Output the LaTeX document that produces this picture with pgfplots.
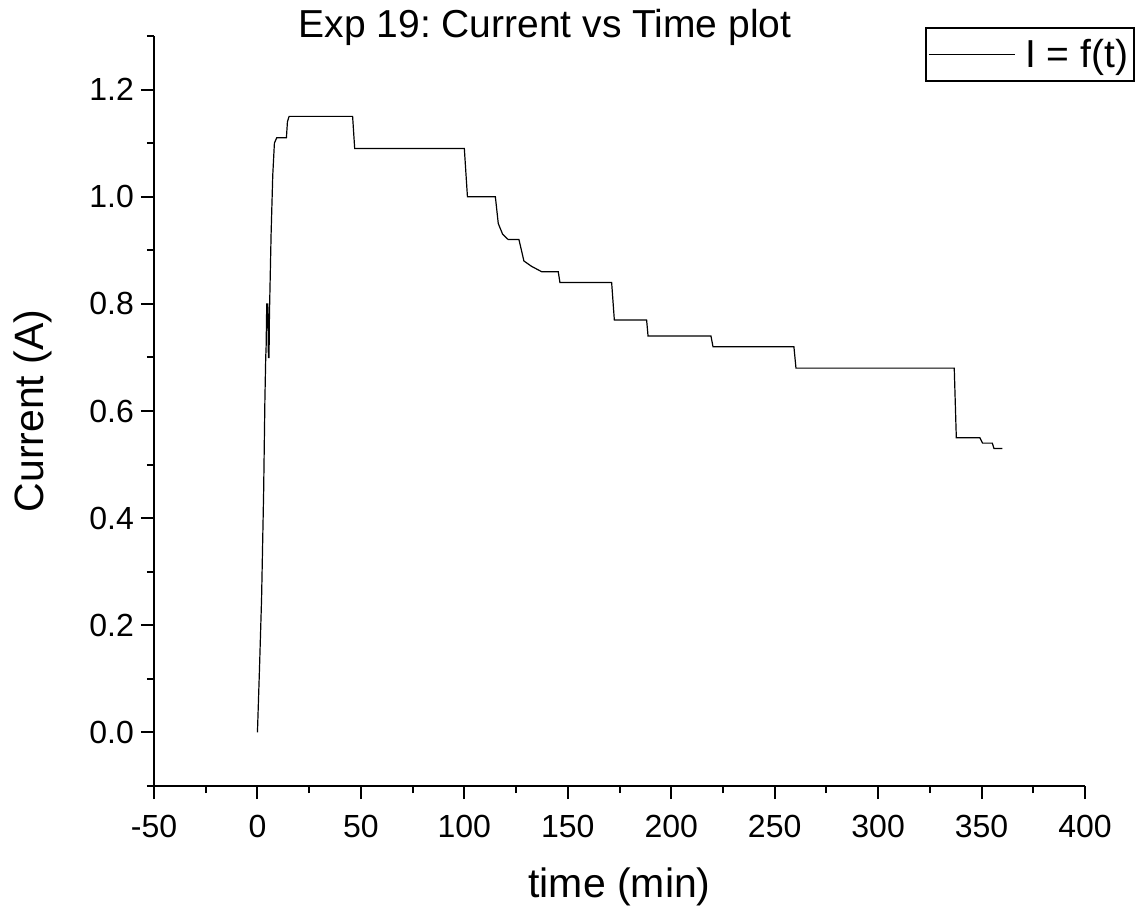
\documentclass[border=0pt]{standalone}
\usepackage{fontspec}
\setmainfont{Liberation Sans}
\usepackage{pgfplots}
\pgfplotsset{compat=1.18}
\frenchspacing
\begin{document}
\begin{tikzpicture}
\useasboundingbox (-77pt,-60pt) rectangle (492.5pt,393pt);
\begin{axis}[
  scale only axis,
  width=465.5pt, height=375pt,
  xmin=-50, xmax=400, ymin=-0.1, ymax=1.3,
  axis x line*=bottom, axis y line*=left,
  axis line style={-, line width=1pt, black},
  xtick={-50,0,...,400},
  minor xtick={-25,25,...,375},
  ytick={0,0.2,...,1.2},
  minor ytick={-0.1,0.1,...,1.3},
  tick align=outside,
  major tick length=6.5pt, minor tick length=3.5pt,
  tick style={line width=1pt, black},
  /pgf/number format/assume math mode=true,
  tick label style={font=\fontsize{16}{16}\selectfont},
  xticklabel style={yshift=-4.5pt},
  yticklabel style={/pgf/number format/.cd, fixed, fixed zerofill, precision=1},
  xlabel={time (min)},
  ylabel={Current (A)},
  xlabel style={font=\fontsize{20.5}{20.5}\selectfont, at={(axis description cs:0.5,0)}, anchor=base, yshift=-55.5pt},
  ylabel style={font=\fontsize{20.5}{20.5}\selectfont, at={(axis description cs:0,0.5)}, anchor=center, yshift=60.5pt},
  title={Exp 19: Current vs Time plot},
  title style={font=\fontsize{19.5}{19.5}\selectfont, at={(axis description cs:0.42,1)}, anchor=base, yshift=-7pt},
  legend style={at={(axis description cs:1.0537,1.012)}, anchor=north east, draw=black, line width=0.8pt,
    font=\fontsize{19.5}{19.5}\selectfont, inner xsep=1pt, inner ysep=3.5pt},
  legend image code/.code={\draw[#1] (0pt,0pt) -- (43pt,0pt); \path (46pt,0pt);},
]
\addplot[black, line width=0.6pt] coordinates {
(0,0) (1,0.12) (2,0.25) (3,0.45) (3.6,0.62) (4,0.70) (4.2,0.72) (4.5,0.80) (5.0,0.80) (5.3,0.70) (5.6,0.70) (5.8,0.78)
(6.6,0.93) (7.4,1.04) (8.2,1.10) (9.3,1.11) (14,1.11) (14.5,1.14) (15.3,1.15) (46,1.15) (47,1.09) (100,1.09)
(101.5,1.00) (115,1.00) (116.4,0.95) (118.5,0.93) (121.2,0.92) (126.4,0.92) (128.8,0.88) (132.5,0.87)
(137.4,0.86) (145.4,0.86) (146.2,0.84) (171.2,0.84) (172.5,0.77) (188.1,0.77) (188.8,0.74) (219.2,0.74)
(220.2,0.72) (259.3,0.72) (260.3,0.68) (336.8,0.68) (337.8,0.55) (349.2,0.55) (350.5,0.54) (355.2,0.54)
(356,0.53) (360,0.53)
};
\addlegendentry{I = f(t)}
\end{axis}
\end{tikzpicture}
\end{document}
